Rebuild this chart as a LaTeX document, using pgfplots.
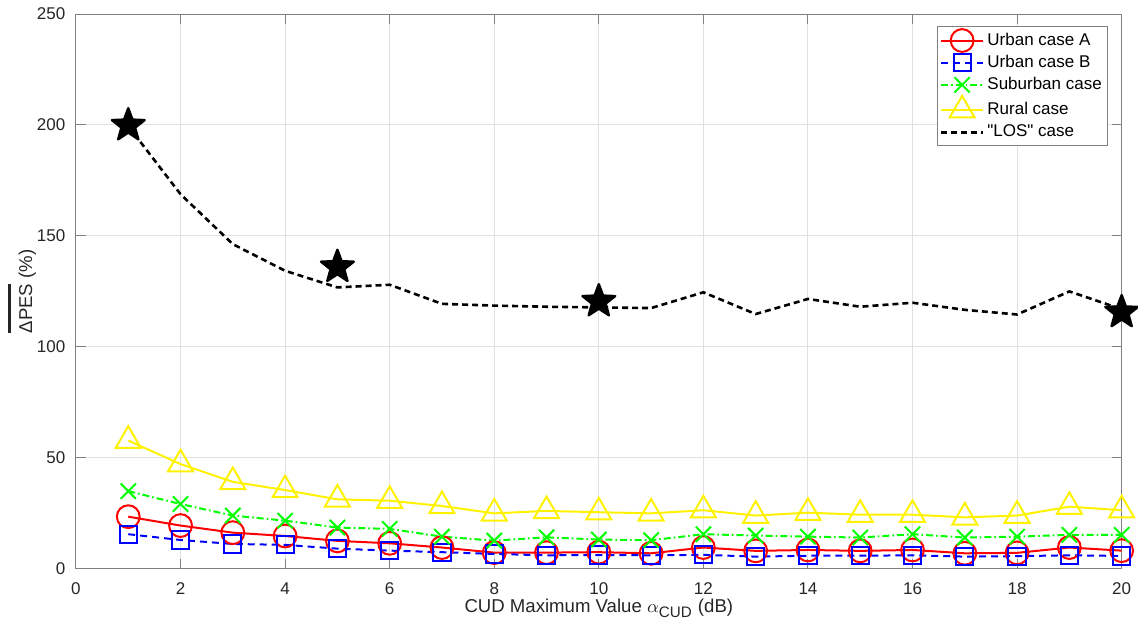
\documentclass[border=0pt]{standalone}
\usepackage{amsmath}
\usepackage{fontspec}
\setmainfont{Liberation Sans}[Ligatures=TeXOff]
\usepackage{pgfplots}
\pgfplotsset{compat=1.18}

\definecolor{framegray}{gray}{0.5}
\definecolor{textgray}{gray}{0.15}
\definecolor{gridgray}{gray}{0.88}

% text with a heavy bar set well above it
\newcommand\barover[1]{\leavevmode\vbox{\hrule height 1.2pt \kern 4.2pt \hbox{#1}}}

% filled five-pointed star with rounded joins
\pgfdeclareplotmark{fstar}{%
  \pgfpathmoveto{\pgfpointpolar{90}{\pgfplotmarksize}}%
  \pgfpathlineto{\pgfpointpolar{126}{0.42\pgfplotmarksize}}%
  \pgfpathlineto{\pgfpointpolar{162}{\pgfplotmarksize}}%
  \pgfpathlineto{\pgfpointpolar{198}{0.42\pgfplotmarksize}}%
  \pgfpathlineto{\pgfpointpolar{234}{\pgfplotmarksize}}%
  \pgfpathlineto{\pgfpointpolar{270}{0.42\pgfplotmarksize}}%
  \pgfpathlineto{\pgfpointpolar{306}{\pgfplotmarksize}}%
  \pgfpathlineto{\pgfpointpolar{342}{0.42\pgfplotmarksize}}%
  \pgfpathlineto{\pgfpointpolar{18}{\pgfplotmarksize}}%
  \pgfpathlineto{\pgfpointpolar{54}{0.42\pgfplotmarksize}}%
  \pgfpathclose
  \pgfusepathqfillstroke
}

\pgfplotstableread{
x  urbA  urbB  sub   rur   los
1  23.5  15.6  35.0  57.8  199.5
2  19.5  13.0  29.2  47.2  168.8
3  16.3  11.2  24.0  39.2  146.3
4  14.8  10.8  21.7  35.5  134.3
5  12.6   9.1  18.6  31.3  126.8
6  11.5   8.2  18.0  30.7  128.0
7   9.6   7.5  14.5  28.3  119.4
8   7.3   6.7  12.7  25.0  118.6
9   7.3   6.1  14.2  26.1  118.1
10  7.5   6.2  13.2  25.5  117.8
11  7.0   6.1  12.9  25.0  117.5
12  9.6   6.3  15.6  26.4  124.6
13  8.1   5.5  15.0  24.0  114.8
14  8.5   5.9  14.5  25.3  121.6
15  8.1   5.9  14.1  24.4  118.1
16  8.5   6.1  15.6  24.4  119.9
17  7.0   5.5  14.1  23.2  116.7
18  7.2   5.7  14.5  24.0  114.6
19  9.6   6.1  15.3  28.0  125.0
20  8.2   5.8  15.3  26.4  117.0
}\datatable

\pgfplotstableread{
x   v
1   199.8
5   136.0
10  120.5
20  115.6
}\stardata

\begin{document}
\begin{tikzpicture}
\begin{axis}[
  scale only axis,
  width=523pt, height=277.5pt,
  xmin=0, xmax=20, ymin=0, ymax=250,
  xtick={0,2,...,20}, ytick={0,50,...,250},
  axis line style={framegray, line width=0.5pt},
  tick style={framegray, line width=0.5pt},
  tick align=inside, tick pos=both,
  major tick length=5pt,
  grid=major,
  major grid style={gridgray, line width=0.5pt},
  font=\fontsize{8.5}{10}\selectfont,
  ticklabel style={textgray},
  /pgf/number format/assume math mode=true,
  xticklabel style={yshift=-3.6pt},
  yticklabel style={xshift=-1.8pt},
  xlabel={CUD Maximum Value $\alpha_{\text{\fontsize{7.6}{8}\selectfont CUD}}$ (dB)},
  xlabel style={at={(axis description cs:0.5,0)}, anchor=base, yshift=-22pt, textgray, font=\fontsize{9.3}{10}\selectfont},
  ylabel={\barover{ΔPES} (\%)},
  ylabel style={at={(axis description cs:-0.042,0.5)}, anchor=base, textgray, font=\fontsize{9.3}{10}\selectfont},
  legend cell align=left,
  legend style={at={(0.9866,0.978)}, anchor=north east, draw=framegray, fill=white,
    line width=0.5pt, font=\fontsize{8.5}{10}\selectfont, inner sep=1.2pt, row sep=0pt,
    nodes={inner ysep=1.35pt, inner xsep=1.5pt, text height=6.5pt, text depth=1.8pt, text=black}},
  legend image code/.code={%
    \draw[mark repeat=2, mark phase=2] plot coordinates {(0pt,0pt) (10.5pt,0pt) (21pt,0pt)};},
  clip=false,
]
\addplot[red, line width=1pt, mark=o, mark size=5.7pt, mark options={solid, line width=1pt}]
  table[x=x, y=urbA] {\datatable};
\addlegendentry{Urban case A}
\addplot[blue, line width=1pt, dash pattern=on 3.5pt off 2.5pt, mark=square, mark size=4.3pt, mark options={solid, line width=1pt}]
  table[x=x, y=urbB] {\datatable};
\addlegendentry{Urban case B}
\addplot[green, line width=1pt, dash pattern=on 3.5pt off 1.5pt on 0.8pt off 1.5pt, mark=x, mark size=5.4pt, mark options={solid, line width=1pt}]
  table[x=x, y=sub] {\datatable};
\addlegendentry{Suburban case}
\addplot[yellow, line width=1pt, mark=triangle, mark size=7.2pt, mark options={solid, line width=1pt}]
  table[x=x, y=rur] {\datatable};
\addlegendentry{Rural case}
\addplot[black, line width=1.3pt, dash pattern=on 3pt off 2pt, mark=none]
  table[x=x, y=los] {\datatable};
\addlegendentry{"LOS" case}
\addplot[only marks, forget plot, mark=fstar, mark size=8.6pt, mark options={black, fill=black, line width=1.2pt, line join=round}]
  table[x=x, y=v] {\stardata};
\end{axis}
\useasboundingbox (-38pt,-32.5pt) rectangle (531pt,284.5pt);
\end{tikzpicture}
\end{document}
